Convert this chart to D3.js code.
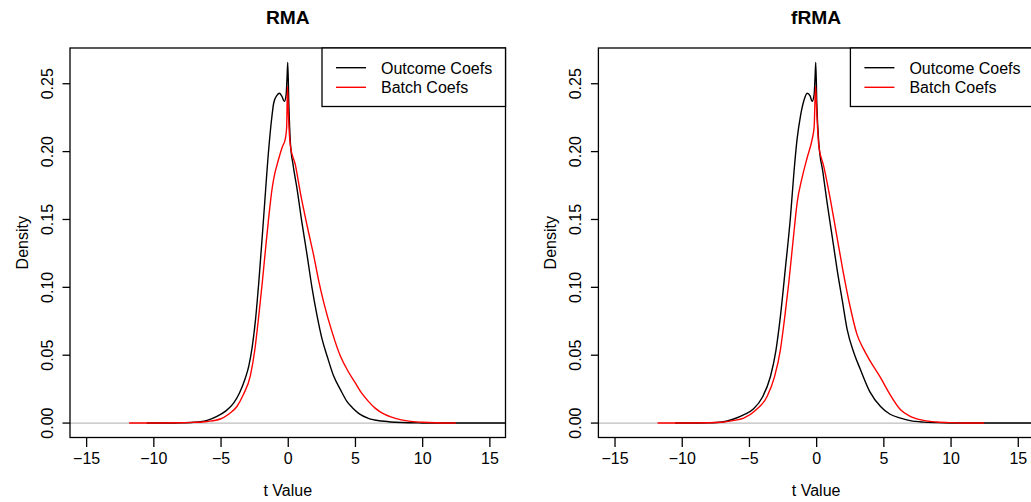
<!DOCTYPE html>
<html>
<head>
<meta charset="utf-8">
<script src="https://cdn.jsdelivr.net/npm/d3@7"></script>
<style>
  body { margin: 0; background: #fff; }
  svg { font-family: "Liberation Sans", Arial, Helvetica, sans-serif; }
</style>
</head>
<body>
<div id="chart"></div>
<script>
// values: [t value, density]
const rmaOutcome = [[-10.5,0],[-9,0.00005],[-8,0.0002],[-7,0.0006],[-6.5,0.001],[-6,0.002],[-5.27,0.005],[-4.6,0.009],[-4.03,0.0147],[-3.6,0.022],[-3.16,0.033],[-2.9,0.042],[-2.66,0.055],[-2.4,0.076],[-2.16,0.103],[-1.79,0.152],[-1.42,0.2014],[-1.2,0.224],[-1.04,0.236],[-0.8,0.2415],[-0.62,0.243],[-0.45,0.241],[-0.25,0.237],[-0.12,0.242],[-0.05,0.255],[0,0.2657],[0.08,0.235],[0.2,0.206],[0.4,0.19],[0.7,0.172],[1.05,0.148],[1.45,0.123],[1.8,0.1],[2.19,0.0786],[2.55,0.062],[2.94,0.049],[3.4,0.035],[3.93,0.0245],[4.4,0.016],[4.79,0.0115],[5.3,0.007],[6,0.0035],[7,0.0015],[8,0.0006],[9,0.0002],[10,0.0001],[12,0],[17,0]];
const rmaBatch = [[-11.8,0],[-10,0.00005],[-8,0.0002],[-7,0.0005],[-6,0.0012],[-5.02,0.003],[-4.4,0.0065],[-3.78,0.0122],[-3.3,0.021],[-2.78,0.035],[-2.45,0.054],[-2.16,0.0786],[-1.9,0.103],[-1.66,0.1275],[-1.4,0.153],[-1.16,0.173],[-0.95,0.1845],[-0.79,0.1905],[-0.42,0.203],[-0.17,0.21],[-0.08,0.218],[-0.02,0.248],[0.06,0.225],[0.2,0.204],[0.57,0.19],[0.95,0.169],[1.45,0.145],[1.94,0.123],[2.3,0.105],[2.69,0.0884],[3.3,0.067],[3.93,0.049],[4.5,0.038],[5,0.03],[5.5,0.022],[6,0.016],[6.5,0.011],[7,0.0075],[8,0.0035],[9,0.0014],[10,0.0006],[11,0.0002],[12.5,0]];
const frmaOutcome = [[-10.5,0],[-9,0.00005],[-8,0.0002],[-7,0.0008],[-6.13,0.003],[-5.4,0.006],[-4.65,0.0105],[-4,0.019],[-3.4,0.0343],[-3,0.053],[-2.66,0.0786],[-2.3,0.113],[-1.91,0.152],[-1.65,0.185],[-1.42,0.209],[-1.17,0.226],[-0.9,0.238],[-0.67,0.243],[-0.45,0.241],[-0.3,0.237],[-0.15,0.242],[-0.08,0.255],[-0.03,0.2657],[0.05,0.235],[0.2,0.206],[0.5,0.185],[0.82,0.162],[1.2,0.137],[1.56,0.113],[1.95,0.09],[2.31,0.0688],[2.8,0.052],[3.3,0.0393],[4,0.023],[4.79,0.0122],[5.5,0.0065],[6.28,0.0037],[7,0.0018],[8,0.0007],[9,0.0003],[10,0.0001],[12,0],[17,0]];
const frmaBatch = [[-11.8,0],[-10,0.00005],[-8,0.0002],[-7,0.0006],[-6.2,0.0018],[-5.39,0.0037],[-4.5,0.0095],[-3.65,0.0196],[-3.1,0.034],[-2.66,0.054],[-2.35,0.077],[-2.04,0.103],[-1.7,0.136],[-1.41,0.1626],[-1.04,0.181],[-0.67,0.1955],[-0.3,0.209],[-0.15,0.218],[-0.04,0.248],[0.05,0.228],[0.2,0.204],[0.57,0.189],[1.06,0.1646],[1.5,0.14],[2,0.112],[2.5,0.087],[3.05,0.065],[3.5,0.055],[4,0.046],[4.79,0.0335],[5.5,0.021],[6.28,0.0098],[7,0.005],[8,0.002],[9,0.0008],[10,0.0003],[11,0.0001],[12.5,0]];

const xTicks = [-15, -10, -5, 0, 5, 10, 15];
const yTicks = [0, 0.05, 0.1, 0.15, 0.2, 0.25];
const legendLabels = ["Outcome Coefs", "Batch Coefs"];
const seriesColors = ["#000000", "#ff0000"];

const width = 1031, height = 502;
const svg = d3.select("#chart").append("svg")
  .attr("width", width).attr("height", height);

function panel(title, outcome, batch, offsetX, id) {
  const left = 70 + offsetX, right = 505.5 + offsetX, top = 48, bottom = 437.5;
  // R style 4% range expansion
  const xlim = [-15, 15];
  const xr = (xlim[1] - xlim[0]) * 0.04;
  const ymax = d3.max(outcome, (d) => d[1]);
  const x = d3.scaleLinear().domain([xlim[0] - xr, xlim[1] + xr]).range([left, right]);
  const y = d3.scaleLinear().domain([-0.04 * ymax, 1.04 * ymax]).range([bottom, top]);

  const g = svg.append("g");

  g.append("clipPath").attr("id", id + "-clip")
    .append("rect")
    .attr("x", left).attr("y", top)
    .attr("width", right - left).attr("height", bottom - top);

  // zero line
  g.append("line")
    .attr("x1", left).attr("x2", right)
    .attr("y1", y(0)).attr("y2", y(0))
    .attr("stroke", "#bebebe").attr("stroke-width", 1.3);

  const line = d3.line()
    .x((d) => x(d[0]))
    .y((d) => y(d[1]))
    .curve(d3.curveMonotoneX);

  const curves = g.append("g").attr("clip-path", `url(#${id}-clip)`);
  [outcome, batch].forEach((s, i) => {
    curves.append("path")
      .datum(s)
      .attr("d", line)
      .attr("fill", "none")
      .attr("stroke", seriesColors[i])
      .attr("stroke-width", 1.4)
      .attr("stroke-linejoin", "round");
  });

  // x axis
  g.append("g")
    .attr("transform", `translate(0,${bottom})`)
    .call(d3.axisBottom(x).tickValues(xTicks).tickSize(9.5).tickSizeOuter(0).tickPadding(6))
    .call((a) => a.select(".domain").remove())
    .call((a) => a.selectAll("line").attr("stroke", "#000").attr("stroke-width", 1.3))
    .call((a) => a.selectAll("text").attr("font-size", "16px").attr("fill", "#000")
      .attr("font-family", null));

  // y axis, labels rotated as in R
  const ya = g.append("g")
    .attr("transform", `translate(${left},0)`)
    .call(d3.axisLeft(y).tickValues(yTicks).tickSize(7.5).tickFormat(d3.format(".2f")))
    .call((a) => a.select(".domain").remove())
    .call((a) => a.selectAll("line").attr("stroke", "#000").attr("stroke-width", 1.3));
  ya.selectAll("text")
    .attr("font-size", "16px").attr("fill", "#000").attr("font-family", null)
    .attr("x", null).attr("dy", null)
    .attr("text-anchor", "middle")
    .attr("transform", (d) => `translate(-17.5,${y(d)}) rotate(-90)`)
    .attr("y", 0);
  ya.selectAll(".tick").attr("transform", null);
  ya.selectAll(".tick line").attr("transform", (d) => `translate(0,${y(d)})`);

  // frame
  g.append("rect")
    .attr("x", left).attr("y", top)
    .attr("width", right - left).attr("height", bottom - top)
    .attr("fill", "none").attr("stroke", "#000").attr("stroke-width", 1.3);

  // titles
  g.append("text")
    .attr("x", (left + right) / 2).attr("y", 24)
    .attr("text-anchor", "middle")
    .attr("font-size", "19.2px").attr("font-weight", "bold")
    .text(title);
  g.append("text")
    .attr("x", (left + right) / 2).attr("y", 496)
    .attr("text-anchor", "middle").attr("font-size", "16px")
    .text("t Value");
  g.append("text")
    .attr("transform", `translate(${left - 42.5},${(top + bottom) / 2}) rotate(-90)`)
    .attr("text-anchor", "middle").attr("font-size", "16px")
    .text("Density");

  // legend
  const lw = 183.5, lh = 58.5;
  const lg = g.append("g").attr("transform", `translate(${right - lw},${top})`);
  lg.append("rect")
    .attr("width", lw).attr("height", lh)
    .attr("fill", "#fff").attr("stroke", "#000").attr("stroke-width", 1.3);
  legendLabels.forEach((label, i) => {
    const ly = 19.7 + i * 19.6;
    lg.append("line")
      .attr("x1", 14).attr("x2", 44)
      .attr("y1", ly).attr("y2", ly)
      .attr("stroke", seriesColors[i]).attr("stroke-width", 1.4);
    lg.append("text")
      .attr("x", 59).attr("y", ly + 5.8)
      .attr("font-size", "16px")
      .text(label);
  });
}

panel("RMA", rmaOutcome, rmaBatch, 0, "rma");
panel("fRMA", frmaOutcome, frmaBatch, 528.4, "frma");
</script>
</body>
</html>
